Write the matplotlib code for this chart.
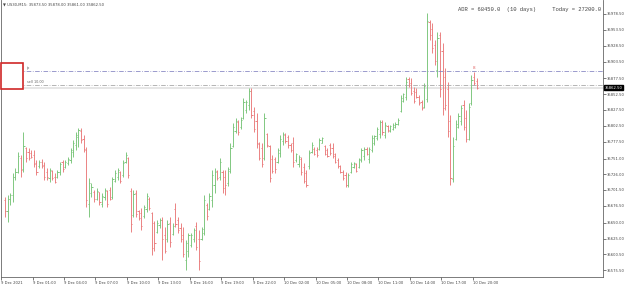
import matplotlib.pyplot as plt
from matplotlib.patches import Rectangle

# US30 M15 bars, 9-10 Dec 2021
opens = [35685, 35668, 35688, 35694, 35722, 35730, 35752, 35735, 35768, 35762,
         35760, 35756, 35744, 35740, 35746, 35741, 35730, 35720, 35731, 35722,
         35722, 35730, 35745, 35738, 35744, 35748, 35762, 35772, 35785, 35795,
         35782, 35765, 35680, 35696, 35699, 35688, 35698, 35680, 35690, 35700,
         35702, 35690, 35716, 35722, 35730, 35725, 35745, 35752, 35700, 35662,
         35696, 35668, 35665, 35660, 35672, 35688, 35665, 35650, 35636, 35646,
         35655, 35630, 35624, 35650, 35632, 35672, 35655, 35642, 35630, 35592,
         35605, 35615, 35625, 35645, 35625, 35625, 35634, 35678, 35672, 35685,
         35710, 35732, 35722, 35730, 35722, 35712, 35732, 35770, 35795, 35808,
         35800, 35815, 35828, 35835, 35858, 35825, 35810, 35774, 35768, 35752,
         35790, 35770, 35750, 35750, 35746, 35760, 35778, 35788, 35785, 35772,
         35775, 35748, 35742, 35750, 35738, 35728, 35740, 35762, 35766, 35765,
         35766, 35776, 35770, 35764, 35772, 35768, 35758, 35748, 35740, 35730,
         35725, 35710, 35730, 35738, 35742, 35738, 35748, 35755, 35766, 35750,
         35764, 35776, 35784, 35790, 35808, 35788, 35802, 35795, 35798, 35800,
         35805, 35826, 35842, 35848, 35876, 35870, 35858, 35856, 35848, 35840,
         35832, 35845, 35966, 35955, 35930, 35890, 35945, 35920, 35880, 35860,
         35810, 35718, 35782, 35800, 35810, 35835, 35815, 35782, 35838, 35880,
         35873.5]
highs = [35690, 35694, 35697, 35728, 35736, 35761, 35756, 35793, 35769, 35768,
         35764, 35764, 35749, 35749, 35750, 35746, 35736, 35736, 35733, 35728,
         35733, 35746, 35749, 35749, 35753, 35768, 35780, 35793, 35799, 35799,
         35788, 35769, 35720, 35712, 35701, 35704, 35699, 35697, 35704, 35701,
         35706, 35722, 35733, 35736, 35732, 35749, 35761, 35753, 35704, 35701,
         35701, 35670, 35673, 35678, 35697, 35690, 35667, 35652, 35654, 35657,
         35659, 35643, 35654, 35659, 35649, 35681, 35659, 35649, 35643, 35623,
         35634, 35634, 35642, 35651, 35638, 35643, 35694, 35681, 35697, 35733,
         35736, 35733, 35752, 35733, 35733, 35738, 35775, 35807, 35815, 35812,
         35816, 35846, 35843, 35862, 35862, 35832, 35823, 35777, 35775, 35823,
         35791, 35772, 35756, 35753, 35768, 35788, 35793, 35791, 35788, 35775,
         35785, 35760, 35756, 35753, 35744, 35733, 35764, 35777, 35769, 35769,
         35783, 35785, 35772, 35768, 35775, 35775, 35760, 35752, 35741, 35733,
         35730, 35728, 35746, 35746, 35744, 35752, 35768, 35769, 35769, 35769,
         35788, 35788, 35801, 35812, 35812, 35808, 35804, 35804, 35807, 35808,
         35815, 35851, 35854, 35879, 35879, 35878, 35864, 35862, 35851, 35843,
         35870, 35980, 35969, 35964, 35937, 35950, 35950, 35933, 35893, 35871,
         35820, 35785, 35812, 35823, 35835, 35843, 35827, 35838, 35882, 35887,
         35878]
lows = [35659, 35651, 35678, 35683, 35717, 35728, 35722, 35730, 35746, 35749,
        35752, 35738, 35725, 35736, 35736, 35717, 35717, 35714, 35717, 35712,
        35720, 35725, 35730, 35736, 35741, 35744, 35753, 35764, 35769, 35775,
        35761, 35675, 35659, 35690, 35683, 35686, 35678, 35675, 35686, 35675,
        35686, 35688, 35714, 35717, 35712, 35722, 35744, 35720, 35635, 35659,
        35659, 35654, 35638, 35657, 35667, 35670, 35599, 35605, 35634, 35642,
        35591, 35602, 35620, 35612, 35630, 35643, 35634, 35620, 35596, 35575,
        35596, 35612, 35620, 35607, 35575, 35623, 35630, 35654, 35670, 35675,
        35697, 35717, 35717, 35697, 35694, 35708, 35728, 35769, 35791, 35788,
        35798, 35813, 35823, 35827, 35815, 35793, 35768, 35749, 35738, 35749,
        35769, 35714, 35728, 35728, 35744, 35753, 35772, 35775, 35768, 35761,
        35738, 35745, 35738, 35725, 35712, 35706, 35735, 35760, 35756, 35753,
        35764, 35775, 35756, 35753, 35756, 35752, 35744, 35736, 35728, 35717,
        35706, 35706, 35728, 35736, 35730, 35736, 35746, 35749, 35756, 35744,
        35761, 35772, 35780, 35783, 35788, 35783, 35793, 35793, 35796, 35799,
        35804, 35824, 35840, 35843, 35864, 35851, 35838, 35846, 35835, 35827,
        35830, 35840, 35937, 35917, 35898, 35879, 35848, 35820, 35827, 35785,
        35709, 35714, 35780, 35799, 35804, 35796, 35777, 35780, 35835, 35867,
        35861]
closes = [35668, 35688, 35694, 35722, 35730, 35755, 35733, 35770, 35752, 35752,
          35754, 35742, 35730, 35746, 35740, 35722, 35722, 35733, 35720, 35714,
          35730, 35742, 35735, 35746, 35750, 35764, 35776, 35788, 35796, 35780,
          35766, 35686, 35712, 35706, 35688, 35700, 35683, 35692, 35702, 35680,
          35688, 35718, 35728, 35733, 35716, 35744, 35757, 35725, 35648, 35695,
          35664, 35657, 35645, 35674, 35692, 35673, 35610, 35618, 35650, 35654,
          35625, 35606, 35648, 35620, 35645, 35648, 35638, 35625, 35600, 35618,
          35630, 35630, 35638, 35612, 35590, 35640, 35686, 35660, 35692, 35725,
          35730, 35720, 35745, 35705, 35710, 35735, 35768, 35800, 35810, 35792,
          35812, 35840, 35840, 35858, 35820, 35798, 35775, 35752, 35742, 35815,
          35772, 35720, 35732, 35735, 35764, 35782, 35790, 35778, 35772, 35764,
          35745, 35758, 35754, 35730, 35716, 35710, 35760, 35773, 35758, 35756,
          35780, 35783, 35758, 35755, 35760, 35755, 35746, 35740, 35730, 35720,
          35710, 35725, 35742, 35744, 35732, 35750, 35764, 35766, 35758, 35766,
          35784, 35786, 35798, 35808, 35792, 35804, 35796, 35802, 35804, 35806,
          35812, 35846, 35852, 35872, 35866, 35854, 35842, 35848, 35838, 35830,
          35865, 35968, 35945, 35925, 35905, 35940, 35860, 35830, 35835, 35795,
          35720, 35770, 35805, 35818, 35830, 35800, 35782, 35832, 35875, 35870,
          35862.5]

time_labels = ["9 Dec 2021", "9 Dec 01:00", "9 Dec 04:00", "9 Dec 07:00",
               "9 Dec 10:00", "9 Dec 13:00", "9 Dec 16:00", "9 Dec 19:00",
               "9 Dec 22:00", "10 Dec 02:00", "10 Dec 05:00", "10 Dec 08:00",
               "10 Dec 11:00", "10 Dec 14:00", "10 Dec 17:00", "10 Dec 20:00"]
price_ticks = [35978.5, 35953.5, 35928.5, 35903.5, 35877.5, 35852.5, 35827.5,
               35802.5, 35777.5, 35751.0, 35726.0, 35701.5, 35676.5, 35650.0,
               35625.0, 35600.5, 35575.5]
bid = 35862.5
tp_level = 35889
sell_level = 35866

green = '#78c478'
red = '#ea7a7a'

fig = plt.figure(figsize=(6.25, 2.85), dpi=100)
ax = fig.add_axes([1/625, 8/285, 602/625, 277/285])

n = len(opens)
x = list(range(n))
cols = [green if c >= o else red for o, c in zip(opens, closes)]

ax.vlines(x, lows, highs, colors=cols, lw=0.65)
ax.hlines(opens, [i - 0.45 for i in x], x, colors=cols, lw=0.65)
ax.hlines(closes, x, [i + 0.45 for i in x], colors=cols, lw=0.65)

# order / bid lines
ax.axhline(bid, color='#e2e2e2', lw=1.2, zorder=0)
ax.axhline(sell_level, color='#a0a0a0', lw=0.55, ls='-.', dashes=(6, 2, 1, 2))
ax.axhline(tp_level, color='#8080c0', lw=0.55, ls='-.', dashes=(6, 2, 1, 2))
ax.text(8.5, tp_level + 2, 'tp', fontsize=2.4, color='#666666', va='bottom')
ax.text(8.5, sell_level + 2, 'sell 10.00', fontsize=2.4, color='#666666', va='bottom')
ax.text(179, 35893, '8', fontsize=3, color='#e06060', ha='center', va='center')

ax.set_xlim(-1.53, 228.2)
ax.set_ylim(35564.5, 36000.5)

ax.yaxis.tick_right()
ax.set_yticks(price_ticks)
ax.set_yticklabels(['%.2f' % p for p in price_ticks])
ax.set_xticks([i * 12 - 1.5 for i in range(len(time_labels))])
ax.set_xticklabels(time_labels, ha='left')
ax.tick_params(axis='both', length=2, width=0.5, labelsize=2.7,
               colors='#444444', pad=1)

for side in ['left', 'bottom', 'right']:
    ax.spines[side].set_color('#666666')
    ax.spines[side].set_linewidth(0.6)
ax.spines['top'].set_visible(False)

ax.text(1.003, bid, '%.2f' % bid, transform=ax.get_yaxis_transform(),
        fontsize=2.7, color='white', ha='left', va='center',
        bbox=dict(boxstyle='square,pad=0.15', fc='black', ec='black'))

fig.text(3/625, 1 - 4/285, '\u25bc US30,M15: 35873.50 35878.00 35861.00 35862.50',
         fontsize=2.7, color='#444444', va='center')
fig.text(601/625, 1 - 10/285,
         'ADR = 68450.0  (10 days)     Today = 27200.0',
         family='Liberation Mono', fontsize=4, color='#444444',
         ha='right', va='center')

fig.add_artist(Rectangle((1/625, 1 - 89/285), 22/625, 26/285,
                         transform=fig.transFigure, fc='white',
                         ec='#d02828', lw=1.2, zorder=5))

fig.savefig('out.png', dpi=100)
